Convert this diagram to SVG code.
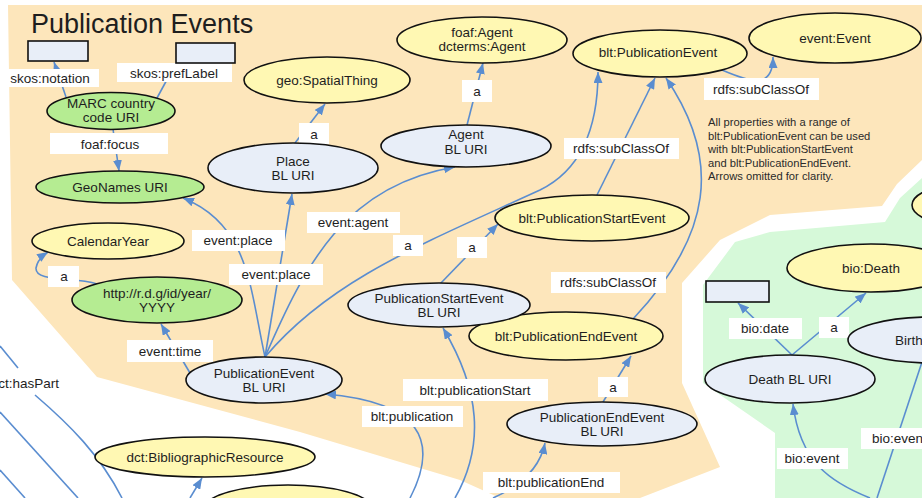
<svg xmlns="http://www.w3.org/2000/svg" width="922" height="498" viewBox="0 0 922 498">
<defs>
<marker id="arr" viewBox="0 0 11 9" refX="11" refY="4.5" markerWidth="11" markerHeight="9" markerUnits="userSpaceOnUse" orient="auto"><path d="M0,0 L11,4.5 L0,9 z" fill="#5a8dd0"/></marker>
<style>
.e{stroke:#5a8dd0;stroke-width:1.6;fill:none}
.ea{stroke:#5a8dd0;stroke-width:1.6;fill:none;marker-end:url(#arr)}
.lb{fill:#ffffff}
.t{font-family:"Liberation Sans",Arial,sans-serif;font-size:13.5px;fill:#1e1e1e;text-anchor:middle}
.y{fill:#fff8b3;stroke:#111;stroke-width:1.6}
.b{fill:#e8eef8;stroke:#111;stroke-width:1.6}
.g{fill:#b5ec92;stroke:#111;stroke-width:1.6}
.note{font-family:"Liberation Sans",Arial,sans-serif;font-size:11.2px;fill:#2a2a2a}
</style>
</defs>
<rect width="922" height="498" fill="#ffffff"/>
<path d="M8,5 L922,5 L922,160 L897,184 L882,206 L770,215 L720,240 L682,283 L682,383 L720,467 L640,498 L500,498 L460,480 L300,432 L97,377 L12,280 Z" fill="#fde6bb"/>
<path d="M922,178 L900,198 L885,222 L770,232 L735,242 L703,285 L703,383 L775,433 L775,498 L922,498 Z" fill="#d6f9d9"/>
<text x="31" y="33" style="font-family:'Liberation Sans',Arial,sans-serif;font-size:27px;fill:#1e1e1e">Publication Events</text>
<text class="note"><tspan x="708" y="126">All properties with a range of</tspan><tspan x="708" y="139.5">blt:PublicationEvent can be used</tspan><tspan x="708" y="153">with blt:PublicationStartEvent</tspan><tspan x="708" y="167">and blt:PublicationEndEvent.</tspan><tspan x="708" y="180">Arrows omitted for clarity.</tspan></text>

<g id="connectors">
<path class="ea" d="M66,97 L54,62"/>
<path class="ea" d="M157,98 L176,63"/>
<path class="ea" d="M113,129 L119,171"/>
<path class="ea" d="M295,143 L325,104"/>
<path class="ea" d="M467,125 L483,63"/>
<path class="ea" d="M265,357 L292,194"/>
<path class="ea" d="M265,357 C250,290 250,225 183,198"/>
<path class="ea" d="M265,357 C305,265 345,185 455,167"/>
<path class="ea" d="M265,357 C330,280 420,245 540,190 C585,168 598,120 598,72"/>
<path class="ea" d="M597,195 L655,78"/>
<path class="ea" d="M633,319 C712,235 722,160 666,78"/>
<path class="ea" d="M722,70 C750,82 773,90 773,57"/>
<path class="ea" d="M440,284 L498,224"/>
<path class="ea" d="M97,284 C75,276 35,283 36,268 C37,262 42,256 48,252"/>
<path class="ea" d="M190,373 L161,324"/>
<path class="ea" d="M410,498 C440,440 420,402 325,394"/>
<path class="ea" d="M455,498 C485,445 480,390 443,328"/>
<path class="ea" d="M493,498 C520,486 540,468 545,443"/>
<path class="ea" d="M603,402 L631,356"/>
<path class="ea" d="M792,355 L738,303"/>
<path class="ea" d="M792,355 L866,293"/>
<path class="ea" d="M870,498 C830,482 800,462 793,404"/>
<path class="e" d="M877,498 L922,362"/>
<path class="ea" d="M190,498 L202,478"/>
<path class="e" d="M0,346 L18,368"/>
<path class="e" d="M35,395 C70,425 100,455 122,498"/>
<path class="e" d="M0,412 L78,498"/>
<path class="e" d="M0,470 L25,498"/>

<g><rect class="lb" x="5" y="69" width="94" height="18"/><text class="t" x="50" y="82.5">skos:notation</text></g>
<g><rect class="lb" x="117" y="63" width="115" height="19"/><text class="t" x="174" y="77.5">skos:prefLabel</text></g>
<g><rect class="lb" x="50" y="133" width="118" height="21"/><text class="t" x="110" y="148.5">foaf:focus</text></g>
<g><rect class="lb" x="299" y="123" width="30" height="21"/><text class="t" x="314" y="138.5">a</text></g>
<g><rect class="lb" x="462" y="80" width="30" height="22"/><text class="t" x="477" y="95.5">a</text></g>
<g><rect class="lb" x="192" y="230" width="93" height="21"/><text class="t" x="238" y="245">event:place</text></g>
<g><rect class="lb" x="229" y="264" width="94" height="21"/><text class="t" x="276" y="279">event:place</text></g>
<g><rect class="lb" x="307" y="212" width="93" height="21"/><text class="t" x="353" y="227">event:agent</text></g>
<g><rect class="lb" x="393" y="235" width="30" height="21"/><text class="t" x="408" y="250">a</text></g>
<g><rect class="lb" x="457" y="237" width="30" height="21"/><text class="t" x="472" y="252">a</text></g>
<g><rect class="lb" x="564" y="138" width="115" height="21"/><text class="t" x="621" y="153">rdfs:subClassOf</text></g>
<g><rect class="lb" x="551" y="272" width="115" height="21"/><text class="t" x="608" y="287">rdfs:subClassOf</text></g>
<g><rect class="lb" x="704" y="78" width="115" height="22"/><text class="t" x="761" y="93.5">rdfs:subClassOf</text></g>
<g><rect class="lb" x="48" y="266" width="31" height="21"/><text class="t" x="64" y="281">a</text></g>
<g><rect class="lb" x="127" y="340" width="86" height="22"/><text class="t" x="170" y="355.5">event:time</text></g>
<g><rect class="lb" x="362" y="406" width="101" height="21"/><text class="t" x="412" y="421">blt:publication</text></g>
<g><rect class="lb" x="403" y="379" width="145" height="22"/><text class="t" x="475" y="394.5">blt:publicationStart</text></g>
<g><rect class="lb" x="598" y="377" width="30" height="20"/><text class="t" x="613" y="391.5">a</text></g>
<g><rect class="lb" x="483" y="472" width="137" height="21"/><text class="t" x="551" y="487">blt:publicationEnd</text></g>
<g><rect class="lb" x="0" y="373" width="66" height="21"/><text class="t" x="59" y="388" style="text-anchor:end">ct:hasPart</text></g>
<g><rect class="lb" x="729" y="318" width="73" height="21"/><text class="t" x="765" y="333">bio:date</text></g>
<g><rect class="lb" x="819" y="317" width="30" height="21"/><text class="t" x="834" y="332">a</text></g>
<g><rect class="lb" x="777" y="448" width="71" height="21"/><text class="t" x="812" y="463">bio:event</text></g>
<g><rect class="lb" x="861" y="428" width="61" height="21"/><text class="t" x="872" y="443" style="text-anchor:start">bio:even</text></g>
</g>

<g id="n_rect1"><rect x="28" y="41" width="60" height="20" fill="#e8eef8" stroke="#111" stroke-width="1.6"/></g>
<g id="n_rect2"><rect x="176" y="43" width="59" height="20" fill="#e8eef8" stroke="#111" stroke-width="1.6"/></g>
<g id="n_marc"><ellipse class="g" cx="111" cy="111" rx="64" ry="18.5"/><text class="t" x="111" y="107.5">MARC country</text><text class="t" x="111" y="122">code URI</text></g>
<g id="n_geonames"><ellipse class="g" cx="120" cy="187" rx="84" ry="16"/><text class="t" x="120" y="192">GeoNames URI</text></g>
<g id="n_calendar"><ellipse class="y" cx="108" cy="241" rx="76" ry="18"/><text class="t" x="108" y="246">CalendarYear</text></g>
<g id="n_year"><ellipse class="g" cx="157" cy="300" rx="85" ry="23"/><text class="t" x="157" y="297.5">http://r.d.g/id/year/</text><text class="t" x="157" y="312">YYYY</text></g>
<g id="n_spatial"><ellipse class="y" cx="327" cy="80" rx="83" ry="23"/><text class="t" x="327" y="85">geo:SpatialThing</text></g>
<g id="n_place"><ellipse class="b" cx="293" cy="168" rx="85" ry="25"/><text class="t" x="293" y="165.5">Place</text><text class="t" x="293" y="180">BL URI</text></g>
<g id="n_agent"><ellipse class="b" cx="466" cy="146" rx="85" ry="21"/><text class="t" x="466" y="139">Agent</text><text class="t" x="466" y="153.5">BL URI</text></g>
<g id="n_foafagent"><ellipse class="y" cx="482" cy="40" rx="85" ry="23"/><text class="t" x="482" y="36.5">foaf:Agent</text><text class="t" x="482" y="51">dcterms:Agent</text></g>
<g id="n_pubevent_cls"><ellipse class="y" cx="660" cy="53.5" rx="87" ry="23.5"/><text class="t" x="658" y="57">blt:PublicationEvent</text></g>
<g id="n_event"><ellipse class="y" cx="835" cy="38" rx="86" ry="25"/><text class="t" x="835" y="43">event:Event</text></g>
<g id="n_start_cls"><ellipse class="y" cx="592" cy="218" rx="97" ry="23"/><text class="t" x="592" y="223">blt:PublicationStartEvent</text></g>
<g id="n_end_cls"><ellipse class="y" cx="566" cy="336" rx="97" ry="24"/><text class="t" x="566" y="341">blt:PublicationEndEvent</text></g>
<g id="n_start"><ellipse class="b" cx="439" cy="305" rx="91" ry="22"/><text class="t" x="439" y="302.5">PublicationStartEvent</text><text class="t" x="439" y="317">BL URI</text></g>
<g id="n_end"><ellipse class="b" cx="602" cy="424" rx="95" ry="22"/><text class="t" x="602" y="421.5">PublicationEndEvent</text><text class="t" x="602" y="436">BL URI</text></g>
<g id="n_pubevent"><ellipse class="b" cx="264" cy="380" rx="78" ry="23"/><text class="t" x="264" y="377.5">PublicationEvent</text><text class="t" x="264" y="392">BL URI</text></g>
<g id="n_biblio"><ellipse class="y" cx="205" cy="457" rx="110" ry="20"/><text class="t" x="205" y="462">dct:BibliographicResource</text></g>
<g id="n_bottom"><ellipse class="y" cx="288" cy="508" rx="83" ry="23"/></g>
<g id="n_rightpartial"><ellipse class="y" cx="985" cy="205" rx="73" ry="24"/></g>
<g id="n_biodeath"><ellipse class="y" cx="871" cy="268" rx="84" ry="24"/><text class="t" x="871" y="273">bio:Death</text></g>
<g id="n_birth"><ellipse class="b" cx="933" cy="340" rx="85" ry="23"/><text class="t" x="895" y="345" style="text-anchor:start">Birth</text></g>
<g id="n_death"><ellipse class="b" cx="790" cy="379" rx="85" ry="24"/><text class="t" x="790" y="384">Death BL URI</text></g>
<g id="n_daterect"><rect x="706" y="281" width="63" height="21" fill="#e8eef8" stroke="#111" stroke-width="1.6"/></g>
</svg>
